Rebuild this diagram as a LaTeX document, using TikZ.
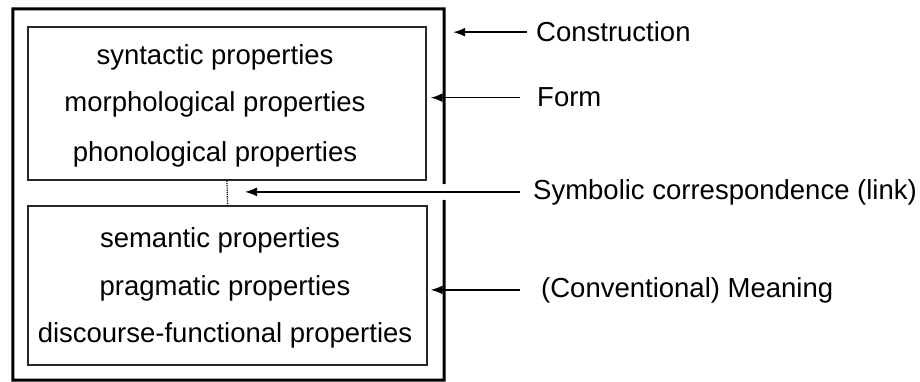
\documentclass[tikz,border=0pt]{standalone}
\usepackage{fontspec}
\setmainfont{Liberation Sans}
\usetikzlibrary{arrows.meta}
\begin{document}
\begin{tikzpicture}[x=1pt,y=-1pt,
  txt/.style={font=\fontsize{27.5}{32}\selectfont, inner sep=0pt},
  inbox/.style={draw=black!85, line width=1.4pt, inner sep=0pt},
  outline/.style={line width=3pt},
  arr/.style={line width=1.5pt, -{Latex[length=12pt,width=9pt]}},
  link/.style={line width=1.2pt, dash pattern=on 1.2pt off 1pt},
]
\useasboundingbox (0,0) rectangle (920,382);

% outer construction box (drawn with a gap on its right side)
\node[inner sep=0pt, minimum width=431pt, minimum height=371pt] (cons) at (228.5,194.5) {};
\coordinate (gapTop) at (444,184);
\coordinate (gapBot) at (444,200);
\draw[outline] (gapTop) -- (cons.north east) -- (cons.north west) -- (cons.south west) -- (cons.south east) -- (gapBot);

% inner boxes
\node[inbox, minimum width=398pt, minimum height=153pt] (form) at (227,103.5) {};
\node[inbox, minimum width=399pt, minimum height=159pt] (meaning) at (227.5,285.5) {};

% texts in the form box
\node[txt, anchor=base] (syn) at (215,65) {syntactic properties};
\node[txt, anchor=base] (mor) at (215,112) {morphological properties};
\node[txt, anchor=base] (pho) at (215,162) {phonological properties};

% texts in the meaning box
\node[txt, anchor=base] (sem) at (220,247) {semantic properties};
\node[txt, anchor=base] (pra) at (225,295) {pragmatic properties};
\node[txt, anchor=base] (dis) at (225,342) {discourse-functional properties};

% dotted link between form and meaning
\draw[link] (form.south) -- (meaning.north);

% labels
\node[txt, anchor=base west] (lc) at (536,42) {Construction};
\node[txt, anchor=base west] (lf) at (537,107) {Form};
\node[txt, anchor=base west] (ls) at (533,199) {Symbolic correspondence (link)};
\node[txt, anchor=base west] (lm) at (541,297) {(Conventional) Meaning};

% arrows
\draw[arr] ([xshift=-9pt]lc.west) -- ([xshift=9pt]cons.east |- lc.west);
\draw[arr] ([xshift=-17pt]lf.west) -- ([xshift=4pt]form.east |- lf.west);
\draw[arr] ([xshift=-13pt]ls.west) -- ([xshift=18pt]form.south |- ls.west);
\draw[arr] ([xshift=-21pt]lm.west) -- ([xshift=3pt]meaning.east |- lm.west);
\end{tikzpicture}
\end{document}
